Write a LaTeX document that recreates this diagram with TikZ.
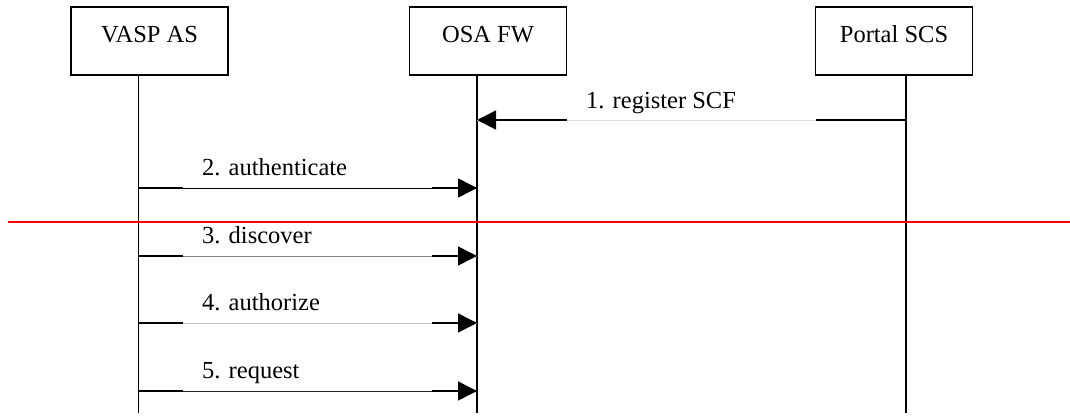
\documentclass[tikz,border=0pt]{standalone}
\usepackage{fontspec}
\setmainfont{Liberation Serif}
\usetikzlibrary{arrows.meta,calc}

\begin{document}
\begin{tikzpicture}[x=1pt, y=-1pt, font=\fontsize{24.5}{29}\selectfont,
	entity/.style={draw, line width=1.3pt, minimum width=157pt, inner sep=0pt, text height=35pt, text depth=33pt},
	lifeline/.style={line width=1.3pt},
	stub/.style={line width=1.5pt},
	head/.style={-{Triangle[length=19pt, width=19pt]}},
	msglabel/.style={anchor=base west, inner sep=0pt}]
	\useasboundingbox (0,0) rectangle (1070,415);
	\node[entity] (vasp) at (149.5,41) {VASP AS};
	\node[entity] (osa) at (488,41) {OSA FW};
	\node[entity] (portal) at (894,41) {Portal SCS};
	% lifelines
	\coordinate (vaspB) at (138.5,413);
	\coordinate (osaB) at (477,413);
	\coordinate (portalB) at (906,413);
	\foreach \e in {vasp, osa, portal} \draw[lifeline] (\e.south -| \e B) -- (\e B);
	% 1. register
	\coordinate (m1s) at (portalB |- 0,120);
	\coordinate (m1e) at (osaB |- 0,120);
	\draw[line width=0.8pt, gray!25] (m1s) -- (m1e);
	\draw[stub] (m1s) -- ++(-90,0);
	\draw[stub, head] ($(m1e)+(90,0)$) -- (m1e);
	\node[msglabel] (m1) at ($(m1e)+(109,-12)$) {1. register SCF};
	% separator
	\draw[red, line width=1.5pt] (8,222) -- (1070,222);
	% VASP -> FW
	\foreach \y/\t/\c in {188/2. authenticate/black, 256/3. discover/gray, 323/4. authorize/gray!50, 391/5. request/black!85} {
		\coordinate (s) at (vaspB |- 0,\y);
		\coordinate (e) at (osaB |- 0,\y);
		\draw[line width=0.8pt, \c] (s) -- (e);
		\draw[stub] (s) -- ++(44.5,0);
		\draw[stub, head] ($(e)+(-45,0)$) -- (e);
		\node[msglabel] at ($(s)+(63.5,-13)$) {\t};
	}
\end{tikzpicture}
\end{document}
